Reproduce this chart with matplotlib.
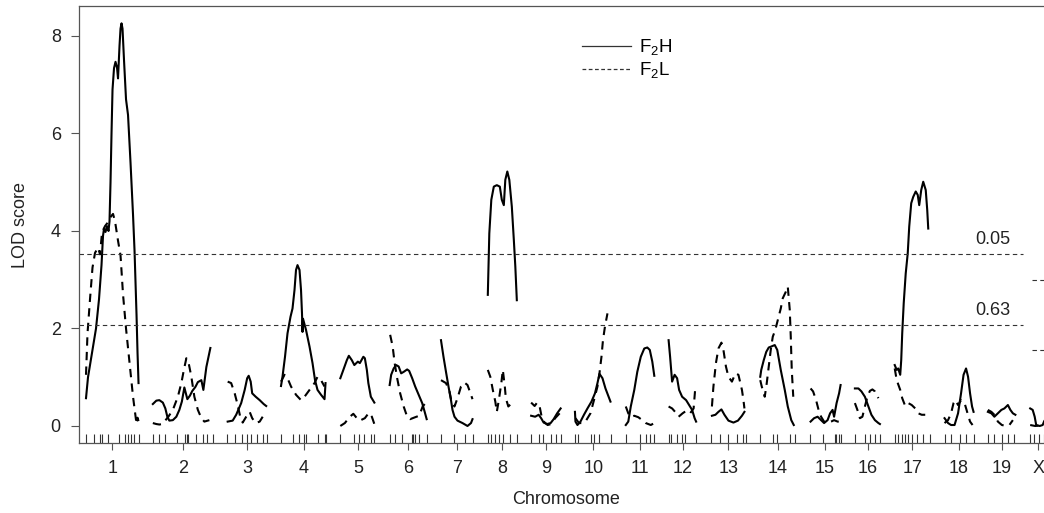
import matplotlib
matplotlib.use("Agg")
import matplotlib.pyplot as plt
from matplotlib.lines import Line2D
from matplotlib.transforms import blended_transform_factory

plt.rcParams["font.family"] = ["Liberation Sans", "DejaVu Sans"]
plt.rcParams["mathtext.fontset"] = "custom"
plt.rcParams["mathtext.rm"] = "Liberation Sans"
plt.rcParams["mathtext.default"] = "regular"

# chromosomes (cM lengths) and gap between them on the genome axis
chrom_names = ["1", "2", "3", "4", "5", "6", "7", "8", "9", "10",
               "11", "12", "13", "14", "15", "16", "17", "18", "19", "X"]
chrom_lengths = [105, 120, 79, 90, 70, 74, 65, 58, 59, 73,
                 57, 56, 70, 70, 62, 51, 71, 58, 56, 33]
chrom_gap = 28.6

# marker positions (cM within chromosome)
marker_pos = [
    [0, 16, 27, 32, 44, 65, 78, 84, 90, 95, 105],
    [0, 12, 25, 48, 65, 68, 71, 87, 100, 108, 120],
    [0, 15, 29, 39, 48, 59, 71, 79],
    [0, 23, 35, 45, 50, 73, 88, 90],
    [0, 28, 38, 48, 61, 68],
    [0, 11, 25, 45, 47, 51, 59, 74],
    [0, 27, 49, 63],
    [0, 7, 14, 22, 30, 45, 58],
    [0, 15, 23, 40, 49, 59],
    [0, 6, 33, 39, 48, 73],
    [0, 28, 40, 48, 57],
    [0, 5, 17, 27, 33, 55],
    [0, 19, 35, 52, 65, 70],
    [0, 25, 34, 59, 69],
    [0, 27, 50, 53, 58, 62],
    [0, 21, 30, 40, 50],
    [0, 7, 14, 21, 27, 34, 44, 57, 70],
    [0, 13, 30, 43, 58],
    [0, 13, 28, 40, 53],
    [0, 7, 17, 27, 33],
]

# F2H LOD profile
f2h_pos = [
    [0, 4, 12, 20, 26, 31, 34, 36, 39, 42, 45, 47, 49, 51, 53, 56, 59, 62, 64, 67,
     69, 71, 73, 76, 80, 84, 89, 94, 97, 101, 103, 105],
    [0, 7, 13, 20, 25, 29, 33, 40, 47, 53, 58, 63, 69, 74, 79, 85, 90, 97, 101, 107, 115],
    [1, 11, 18, 28, 35, 40, 43, 47, 50, 57, 65, 73, 78],
    [0, 3, 8, 13, 19, 23, 27, 30, 33, 37, 40, 42, 43, 44, 50, 57, 63, 68, 73, 80, 87, 89],
    [0, 6, 13, 17, 23, 28, 35, 39, 46, 49, 53, 56, 61, 68],
    [0, 3, 8, 13, 18, 23, 28, 35, 39, 45, 51, 58, 65, 70, 74],
    [0, 5, 10, 15, 20, 23, 27, 33, 43, 53, 60, 63],
    [0, 3, 7, 12, 18, 24, 28, 32, 35, 39, 43, 48, 52, 55, 58],
    [0, 8, 15, 20, 25, 32, 39, 45, 52, 59],
    [0, 1, 5, 11, 18, 25, 33, 40, 45, 49, 55, 61, 71],
    [0, 5, 10, 17, 23, 30, 37, 43, 48, 53, 57],
    [0, 3, 7, 12, 17, 21, 27, 35, 41, 47, 52, 55],
    [2, 9, 15, 21, 27, 35, 45, 54, 62, 67],
    [0, 2, 7, 12, 17, 22, 29, 34, 41, 49, 55, 62, 67],
    [2, 9, 16, 23, 29, 36, 41, 46, 49, 54, 59, 62],
    [0, 7, 13, 20, 27, 33, 40, 47, 50],
    [0, 4, 7, 11, 13, 15, 18, 22, 26, 29, 33, 37, 42, 46, 49, 53, 57, 62, 65, 67],
    [0, 7, 13, 20, 27, 33, 38, 43, 47, 51, 55, 58],
    [0, 7, 13, 20, 27, 33, 40, 45, 50, 55],
    [0, 5, 9, 12, 19, 25, 28, 32],
]
f2h_lod = [
    [0.57, 1.0, 1.5, 2.0, 2.6, 3.3, 3.9, 4.05, 3.98, 4.1, 4.0, 4.2, 5.0, 6.0, 6.9, 7.34, 7.47, 7.35, 7.13, 7.8,
     8.15, 8.26, 8.15, 7.5, 6.7, 6.38, 5.4, 4.33, 3.6, 2.28, 1.5, 0.88],
    [0.45, 0.52, 0.53, 0.48, 0.36, 0.19, 0.11, 0.12, 0.19, 0.33, 0.5, 0.79, 0.55, 0.62, 0.72, 0.8, 0.9, 0.94,
     0.74, 1.21, 1.6],
    [0.09, 0.11, 0.23, 0.47, 0.74, 0.98, 1.03, 0.91, 0.67, 0.6, 0.53, 0.45, 0.41],
    [0.82, 1.01, 1.42, 1.9, 2.24, 2.41, 2.79, 3.2, 3.3, 3.2, 2.79, 2.3, 1.93, 2.2, 1.97, 1.63, 1.29, 0.94,
     0.74, 0.64, 0.55, 0.88],
    [0.98, 1.15, 1.35, 1.44, 1.35, 1.25, 1.32, 1.29, 1.42, 1.39, 1.15, 0.88, 0.6, 0.48],
    [0.84, 1.05, 1.18, 1.25, 1.22, 1.08, 1.11, 1.16, 1.13, 0.98, 0.81, 0.64, 0.47, 0.29, 0.14],
    [1.76, 1.42, 1.11, 0.81, 0.53, 0.33, 0.19, 0.11, 0.06, 0.0, 0.06, 0.14],
    [2.69, 3.95, 4.64, 4.91, 4.94, 4.91, 4.64, 4.53, 5.05, 5.22, 5.05, 4.5, 3.82, 3.27, 2.58],
    [0.21, 0.19, 0.23, 0.16, 0.07, 0.04, 0.06, 0.14, 0.26, 0.36],
    [0.29, 0.09, 0.02, 0.09, 0.23, 0.36, 0.5, 0.67, 0.88, 1.07, 0.98, 0.77, 0.5],
    [0.02, 0.09, 0.4, 0.74, 1.11, 1.42, 1.59, 1.61, 1.56, 1.32, 1.03],
    [1.76, 1.42, 0.91, 1.05, 0.98, 0.74, 0.6, 0.53, 0.43, 0.33, 0.16, 0.09],
    [0.21, 0.23, 0.29, 0.34, 0.23, 0.11, 0.07, 0.11, 0.21, 0.29],
    [1.01, 1.15, 1.35, 1.52, 1.61, 1.63, 1.66, 1.56, 1.15, 0.74, 0.4, 0.12, 0.02],
    [0.09, 0.16, 0.19, 0.12, 0.06, 0.12, 0.26, 0.33, 0.19, 0.47, 0.67, 0.84],
    [0.77, 0.77, 0.71, 0.6, 0.4, 0.23, 0.12, 0.06, 0.04],
    [1.25, 1.15, 1.18, 1.05, 1.35, 1.9, 2.52, 3.13, 3.54, 4.09, 4.57, 4.7, 4.81, 4.74, 4.53, 4.84, 5.01,
     4.84, 4.43, 4.05],
    [0.16, 0.06, 0.02, 0.02, 0.26, 0.67, 1.05, 1.18, 1.01, 0.67, 0.4, 0.29],
    [0.29, 0.26, 0.19, 0.26, 0.33, 0.36, 0.43, 0.33, 0.26, 0.23],
    [0.36, 0.33, 0.19, 0.02, 0.0, 0.02, 0.1, 0.15],
]

# F2L LOD profile
f2l_pos = [
    [0, 3, 8, 13, 18, 24, 28, 32, 38, 44, 50, 54, 58, 64, 69, 74, 80, 87, 94, 99, 101, 103, 105],
    [0, 7, 13, 19, 31, 40, 50, 57, 62, 67, 71, 77, 83, 90, 97, 103, 113],
    [1, 8, 15, 21, 26, 31, 38, 45, 50, 57, 65, 71],
    [0, 7, 13, 20, 30, 40, 47, 57, 67, 73, 80, 87],
    [0, 9, 19, 26, 33, 39, 49, 57, 63, 68],
    [1, 6, 10, 15, 21, 28, 35, 41, 51, 59, 66, 70],
    [0, 10, 17, 21, 27, 33, 40, 47, 53, 59, 63],
    [0, 5, 10, 15, 18, 22, 27, 30, 34, 36, 41, 48, 53],
    [0, 7, 12, 17, 21, 27, 33, 40, 48, 57],
    [1, 8, 15, 21, 31, 38, 45, 49, 53, 56, 60, 65],
    [0, 5, 10, 17, 25, 33, 40, 50, 57],
    [0, 7, 13, 20, 28, 35, 43, 50, 53, 55],
    [2, 5, 10, 15, 21, 25, 30, 35, 42, 49, 55, 62, 65, 67],
    [0, 3, 9, 13, 17, 21, 25, 30, 35, 41, 45, 51, 55, 59, 61, 63, 66],
    [2, 7, 13, 18, 23, 29, 36, 43, 49, 56, 60],
    [0, 5, 10, 15, 20, 25, 30, 35, 40, 47],
    [0, 4, 11, 15, 21, 27, 34, 41, 47, 54, 61],
    [0, 7, 13, 18, 22, 27, 33, 40, 46, 51, 56],
    [0, 7, 13, 20, 28, 37, 43, 50],
    [0, 10, 20, 27, 32],
]
f2l_lod = [
    [1.05, 1.9, 2.6, 3.25, 3.55, 3.66, 3.52, 3.97, 4.1, 4.18, 4.3, 4.35, 4.2, 3.8, 3.5, 2.7, 2.0, 1.3, 0.6,
     0.2, 0.04, 0.17, 0.1],
    [0.06, 0.04, 0.03, 0.04, 0.19, 0.33, 0.6, 0.88, 1.15, 1.39, 1.32, 1.01, 0.6, 0.33, 0.16, 0.09, 0.12],
    [0.91, 0.88, 0.67, 0.43, 0.19, 0.07, 0.19, 0.29, 0.16, 0.06, 0.09, 0.19],
    [0.91, 1.05, 0.98, 0.81, 0.64, 0.53, 0.6, 0.74, 0.88, 1.01, 0.94, 0.81],
    [0.0, 0.06, 0.19, 0.25, 0.16, 0.11, 0.16, 0.27, 0.19, 0.04],
    [1.87, 1.63, 1.29, 0.98, 0.67, 0.4, 0.19, 0.14, 0.18, 0.21, 0.4, 0.45],
    [0.94, 0.88, 0.71, 0.5, 0.4, 0.57, 0.81, 0.89, 0.84, 0.67, 0.55],
    [1.15, 1.01, 0.74, 0.5, 0.29, 0.53, 0.88, 1.15, 0.81, 0.57, 0.4, 0.47, 0.5],
    [0.48, 0.41, 0.48, 0.4, 0.19, 0.07, 0.02, 0.04, 0.16, 0.26],
    [0.16, 0.06, 0.06, 0.09, 0.26, 0.53, 0.81, 1.08, 1.42, 1.76, 2.04, 2.31],
    [0.4, 0.26, 0.18, 0.21, 0.18, 0.12, 0.06, 0.02, 0.06],
    [0.4, 0.36, 0.29, 0.19, 0.26, 0.31, 0.26, 0.36, 0.74, 0.81],
    [0.4, 0.81, 1.29, 1.59, 1.71, 1.56, 1.22, 1.01, 0.91, 1.08, 1.05, 0.74, 0.53, 0.36],
    [0.94, 0.81, 0.6, 0.88, 1.22, 1.56, 1.83, 1.97, 2.17, 2.41, 2.62, 2.75, 2.86, 2.38, 1.83, 1.15, 0.6],
    [0.77, 0.71, 0.53, 0.33, 0.19, 0.09, 0.06, 0.09, 0.12, 0.09, 0.09],
    [0.47, 0.33, 0.16, 0.19, 0.4, 0.6, 0.72, 0.75, 0.71, 0.57],
    [1.18, 0.94, 0.74, 0.57, 0.41, 0.47, 0.43, 0.36, 0.26, 0.23, 0.23],
    [0.06, 0.12, 0.26, 0.47, 0.53, 0.43, 0.53, 0.47, 0.26, 0.09, 0.02],
    [0.33, 0.29, 0.23, 0.09, 0.02, 0.0, 0.02, 0.12],
    [0.02, 0.0, 0.01, 0.06, 0.1],
]

# permutation thresholds (autosomes / X)
auto_thresholds = [3.52, 2.07]
auto_threshold_labels = ["0.05", "0.63"]
x_thresholds = [3.0, 1.55]

offsets = []
cum = 0.0
for length in chrom_lengths:
    offsets.append(cum)
    cum += length + chrom_gap
genome_end = offsets[-1] + chrom_lengths[-1]

fig = plt.figure(figsize=(10.44, 5.13), dpi=100)
ax = fig.add_axes([78.85 / 1044, 70 / 513, 975 / 1044, 437 / 513])

for i in range(len(chrom_names)):
    off = offsets[i]
    ax.plot([off + p for p in f2h_pos[i]], f2h_lod[i], color="black", lw=1.5,
            solid_joinstyle="round")
    ax.plot([off + p for p in f2l_pos[i]], f2l_lod[i], color="black", lw=1.5,
            dashes=(4, 3))

# marker rug
rug_x = [offsets[i] + p for i in range(len(chrom_names)) for p in marker_pos[i]]
trans = blended_transform_factory(ax.transData, ax.transAxes)
ax.vlines(rug_x, 0, 0.021, transform=trans, color="#333333", lw=0.8)

# thresholds
x_left = -chrom_gap / 2
auto_end = offsets[18] + chrom_lengths[18] + chrom_gap / 2
x_right = genome_end + chrom_gap / 2
for thr, lab in zip(auto_thresholds, auto_threshold_labels):
    ax.plot([x_left, auto_end], [thr, thr], color="#333333", lw=0.8, dashes=(4, 3))
    ax.text(offsets[18] + chrom_lengths[18] - 11, thr + 0.3, lab, ha="right", va="center",
            fontsize=13, color="#222222")
for thr in x_thresholds:
    ax.plot([offsets[19] + 3, x_right], [thr, thr], color="#333333", lw=0.8, dashes=(4, 3))

ax.set_xlim(x_left, x_right)
ax.set_ylim(-0.349, 8.615)
ax.set_xticks([offsets[i] + chrom_lengths[i] / 2 for i in range(len(chrom_names))])
ax.set_xticklabels(chrom_names)
ax.set_yticks([0, 2, 4, 6, 8])
ax.tick_params(axis="x", length=5, width=0.8, color="#555555", pad=7, labelsize=13,
               labelcolor="#222222")
ax.tick_params(axis="y", length=6, width=0.8, color="#555555", pad=7, labelsize=13,
               labelcolor="#222222")
for side in ["left", "top", "bottom"]:
    ax.spines[side].set_color("#555555")
    ax.spines[side].set_linewidth(0.9)
ax.spines["right"].set_visible(False)

ax.set_xlabel("Chromosome", fontsize=13, color="#222222")
ax.set_ylabel("LOD score", fontsize=13, color="#222222")
ax.xaxis.set_label_coords(0.5, -0.11)
ax.yaxis.set_label_coords(-0.051, 0.5)

handles = [Line2D([], [], color="#333333", lw=0.9),
           Line2D([], [], color="#333333", lw=0.9, dashes=(3, 2))]
ax.legend(handles, ["F$_2$H", "F$_2$L"], loc="upper left", bbox_to_anchor=(0.516, 0.928),
          frameon=False, fontsize=13.5, handlelength=2.6, handletextpad=0.45,
          labelspacing=0.15, borderpad=0, borderaxespad=0)

fig.savefig("out.png", dpi=100, facecolor="white")
